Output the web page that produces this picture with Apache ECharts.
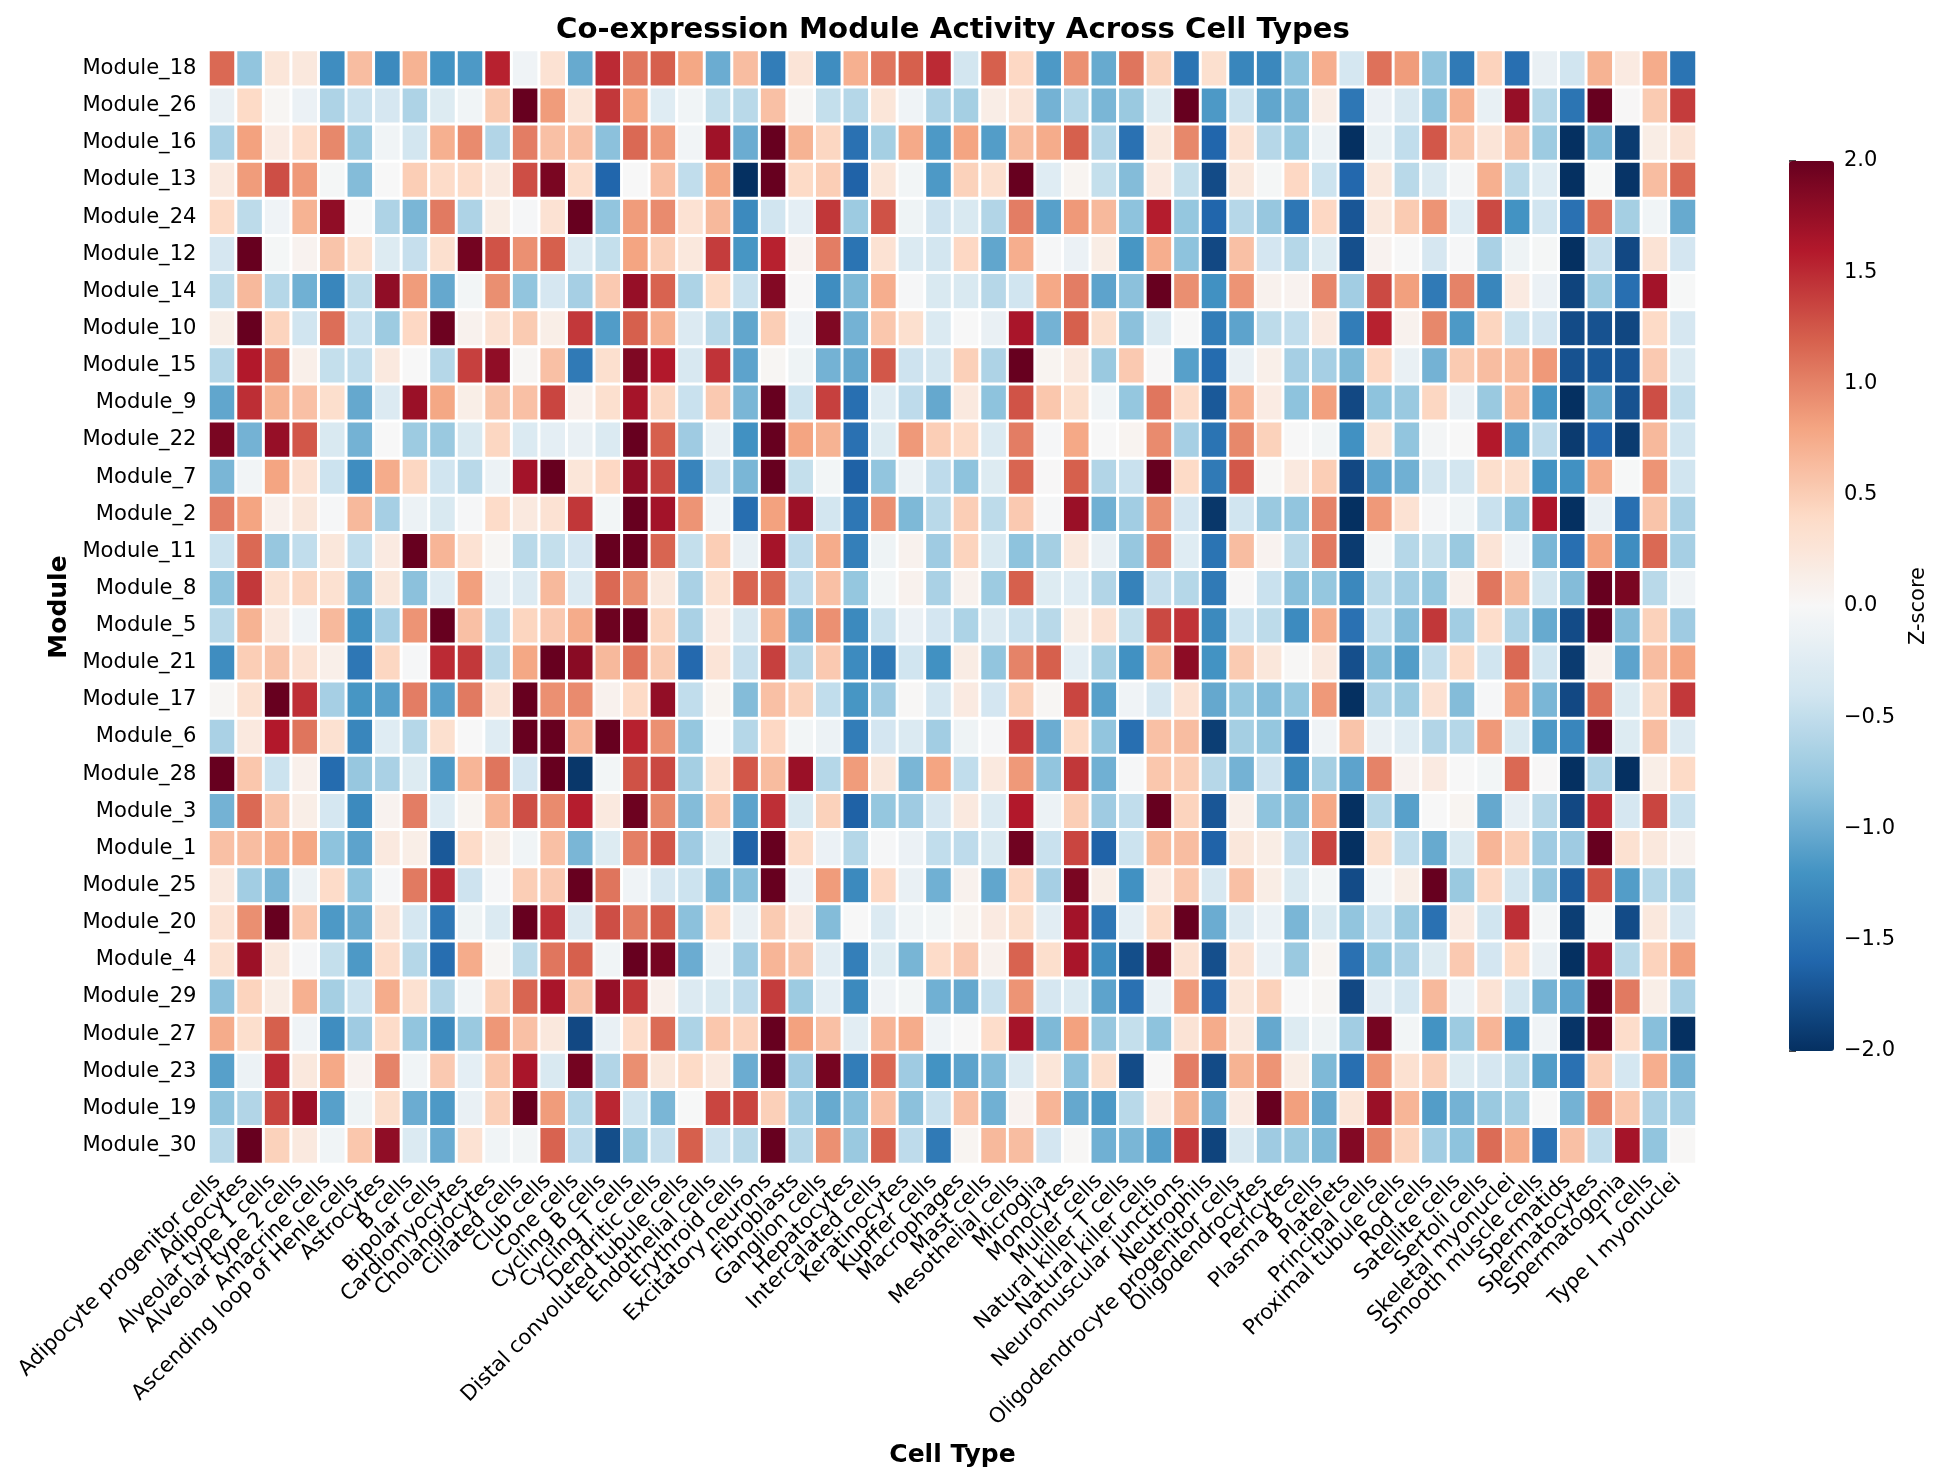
<!DOCTYPE html>
<html>
<head>
<meta charset="UTF-8">
<title>Co-expression Module Activity Across Cell Types</title>
<style>
	html,body{margin:0;padding:0;background:#fff;}
	#chart{width:1942px;height:1481px;}
</style>
</head>
<body>
<div id="chart"></div>
<script src="https://cdn.jsdelivr.net/npm/echarts@6/dist/echarts.min.js"></script>
<script type="text/javascript">
var cellTypes = ['Adipocyte progenitor cells','Adipocytes','Alveolar type 1 cells','Alveolar type 2 cells','Amacrine cells','Ascending loop of Henle cells','Astrocytes','B cells','Bipolar cells','Cardiomyocytes','Cholangiocytes','Ciliated cells','Club cells','Cone cells','Cycling B cells','Cycling T cells','Dendritic cells','Distal convoluted tubule cells','Endothelial cells','Erythroid cells','Excitatory neurons','Fibroblasts','Ganglion cells','Hepatocytes','Intercalated cells','Keratinocytes','Kupffer cells','Macrophages','Mast cells','Mesothelial cells','Microglia','Monocytes','Muller cells','Natural killer T cells','Natural killer cells','Neuromuscular junctions','Neutrophils','Oligodendrocyte progenitor cells','Oligodendrocytes','Pericytes','Plasma B cells','Platelets','Principal cells','Proximal tubule cells','Rod cells','Satellite cells','Sertoli cells','Skeletal myonuclei','Smooth muscle cells','Spermatids','Spermatocytes','Spermatogonia','T cells','Type I myonuclei'];

var modules = ['Module_18','Module_26','Module_16','Module_13','Module_24','Module_12','Module_14','Module_10','Module_15','Module_9','Module_22','Module_7','Module_2','Module_11','Module_8','Module_5','Module_21','Module_17','Module_6','Module_28','Module_3','Module_1','Module_25','Module_20','Module_4','Module_29','Module_27','Module_23','Module_19','Module_30'];

// z-scores, one array per module, same order as cellTypes
var module18 = [1.15,-0.8,0.25,0.22,-1.25,0.62,-1.28,0.7,-1.2,-1.15,1.55,-0.08,0.3,-1.02,1.5,1.07,1.2,0.78,-1.0,0.62,-1.4,0.27,-1.25,0.72,1.07,1.2,1.5,-0.38,1.2,0.42,-1.15,0.92,-1.02,1.08,0.47,-1.48,0.33,-1.32,-1.3,-0.82,0.73,-0.36,1.1,0.85,-0.8,-1.42,0.46,-1.52,-0.15,-0.4,0.7,0.18,0.75,-1.48];
var module26 = [-0.15,0.4,0.03,-0.13,-0.62,-0.45,-0.35,-0.62,-0.27,-0.07,0.52,2.0,0.85,0.25,1.42,0.8,-0.25,-0.07,-0.48,-0.55,0.6,0.03,-0.48,-0.58,0.25,-0.08,-0.62,-0.68,0.14,0.27,-0.95,-0.58,-0.92,-0.75,-0.27,2.0,-1.15,-0.44,-1.05,-0.92,0.14,-1.45,-0.13,-0.33,-0.82,0.72,-0.16,1.75,-0.58,-1.47,2.0,0.01,0.52,1.4];
var module16 = [-0.65,0.82,0.17,0.37,0.97,-0.75,-0.07,-0.38,0.72,0.95,-0.6,1.03,0.6,0.6,-0.83,1.15,0.87,-0.06,1.7,-1.0,2.0,0.7,0.43,-1.5,-0.68,0.76,-1.15,0.8,-1.12,0.63,0.75,1.2,-0.6,-1.5,0.22,0.97,-1.6,0.3,-0.57,-0.78,-0.12,-2.0,-0.16,-0.5,1.25,0.55,0.27,0.62,-0.73,-2.0,-0.9,-1.92,0.15,0.28];
var module13 = [0.2,0.85,1.3,0.87,-0.03,-0.87,0,0.5,0.38,0.38,0.2,1.3,1.9,0.37,-1.6,0,0.6,-0.5,0.78,-2.0,2.0,0.4,0.5,-1.62,0.25,-0.05,-1.15,0.47,0.33,2.0,-0.25,0.05,-0.48,-0.87,0.18,-0.48,-1.8,0.22,-0.03,0.42,-0.43,-1.58,0.22,-0.55,-0.3,-0.04,0.72,-0.55,-0.25,-2.0,-0.01,-1.97,0.62,1.15];
var module24 = [0.4,-0.53,-0.08,0.7,1.78,0,-0.62,-0.92,1.05,-0.62,0.15,-0.02,0.3,2.0,-0.8,0.85,0.95,0.3,0.65,-1.28,-0.4,-0.2,1.43,-0.73,1.28,-0.1,-0.42,-0.32,-0.6,1.03,-1.1,0.87,0.65,-0.82,1.58,-0.78,-1.6,-0.57,-0.77,-1.45,0.42,-1.72,0.22,0.52,0.9,-0.25,1.32,-1.2,-0.4,-1.5,1.1,-0.68,-0.07,-1.02];
var module12 = [-0.35,2.0,-0.03,0.07,0.57,0.32,-0.27,-0.47,0.33,1.93,1.27,0.92,1.2,-0.3,-0.48,0.8,0.48,0.22,1.4,-1.18,1.55,0.07,1.03,-1.48,0.3,-0.3,-0.38,0.42,-1.05,0.73,-0.02,-0.13,0.15,-1.18,0.73,-0.82,-1.82,0.6,-0.37,-0.58,-0.27,-1.77,0.07,0,-0.35,-0.02,-0.65,-0.09,-0.03,-2.0,-0.47,-1.82,0.28,-0.37];
var module14 = [-0.53,0.65,-0.58,-0.97,-1.32,-0.53,1.78,0.85,-1.03,-0.05,0.93,-0.8,-0.35,-0.67,0.53,1.75,1.18,-0.63,0.4,-0.45,1.85,0.01,-1.25,-0.9,0.73,-0.02,-0.32,-0.32,-0.57,-0.4,0.77,1.03,-1.07,-0.83,2.0,0.93,-1.22,0.9,0.08,0.07,0.98,-0.7,1.32,0.83,-1.42,1.0,-1.32,0.18,-0.13,-1.85,-0.73,-1.52,1.68,-0.01];
var module10 = [0.13,2.0,0.45,-0.4,1.12,-0.45,-0.73,0.42,1.97,0.08,0.3,0.52,0.13,1.42,-1.13,1.2,0.72,-0.28,-0.55,-1.05,0.5,-0.08,1.87,-0.95,0.55,0.33,-0.3,0,-0.15,1.65,-0.95,1.2,0.35,-0.83,-0.3,0,-1.4,-1.07,-0.53,-0.5,0.18,-1.4,1.55,0.08,0.97,-1.15,0.44,-0.44,-0.37,-1.8,-1.75,-1.83,0.4,-0.35];
var module15 = [-0.58,1.6,1.12,0.12,-0.48,-0.5,0.2,0,-0.58,1.38,1.78,0.03,0.6,-1.42,0.33,1.87,1.6,-0.33,1.45,-1.07,0.03,-0.1,-0.95,-1.03,1.25,-0.42,-0.38,0.48,-0.62,2.0,0.06,0.2,-0.75,0.53,0.01,-1.1,-1.55,-0.15,0.12,-0.67,-0.67,-0.9,0.42,-0.15,-0.95,0.52,0.62,0.63,0.87,-1.75,-1.7,-1.72,0.53,-0.3];
var module9 = [-1.05,1.48,0.7,0.6,0.35,-1.03,-0.28,1.73,0.78,0.13,0.57,0.6,1.35,0.1,0.33,1.67,0.43,-0.45,0.53,-0.92,2.0,-0.43,1.38,-1.52,-0.25,-0.52,-1.03,0.2,-0.82,1.27,0.55,0.35,-0.07,-0.78,1.07,0.38,-1.7,0.73,0.17,-0.82,0.83,-1.82,-0.82,-0.75,0.43,-0.15,-0.75,0.63,-1.2,-2.0,-1.03,-1.75,1.3,-0.5];
var module22 = [1.9,-0.95,1.75,1.25,-0.32,-0.95,0,-0.73,-0.75,-0.32,0.43,-0.3,-0.2,-0.15,-0.3,2.0,1.2,-0.72,-0.15,-1.22,2.0,0.8,0.7,-1.5,-0.27,0.87,0.5,0.4,-0.3,1.03,-0.02,0.77,0,0.06,0.95,-0.67,-1.48,0.97,0.47,0,-0.05,-1.22,0.25,-0.8,-0.04,0,1.6,-1.15,-0.52,-1.92,-1.58,-1.92,0.65,-0.4];
var module7 = [-0.92,-0.06,0.8,0.3,-0.43,-1.25,0.75,0.43,-0.4,-0.55,-0.12,1.68,2.0,0.25,0.42,1.78,1.33,-1.33,-0.47,-0.92,2.0,-0.48,-0.05,-1.63,-0.8,-0.12,-0.52,-0.82,-0.27,1.17,0.01,1.2,-0.6,-0.45,2.0,0.4,-1.42,1.25,0.02,0.2,0.5,-1.82,-1.07,-0.97,-0.38,-0.38,0.35,0.33,-1.2,-1.22,0.75,-0.01,0.9,-0.4];
var module2 = [1.03,0.8,0.1,0.23,-0.02,0.65,-0.67,-0.12,-0.32,-0.02,0.38,0.2,0.3,1.43,-0.05,2.0,1.68,0.9,-0.08,-1.53,0.82,1.72,-0.38,-1.45,0.93,-0.9,-0.55,0.5,-0.53,0.53,-0.02,1.73,-0.97,-0.7,0.93,-0.37,-1.95,-0.4,-0.75,-0.8,1.0,-2.0,0.87,0.3,-0.02,-0.07,-0.45,-0.8,1.63,-2.0,-0.15,-1.52,0.57,-0.65];
var module11 = [-0.43,1.15,-0.77,-0.5,0.23,-0.5,0.18,2.0,0.68,0.3,0.03,-0.55,-0.48,-0.37,2.0,2.0,1.17,-0.48,0.5,-0.15,1.67,-0.52,0.75,-1.38,-0.09,0.08,-0.72,0.45,-0.32,-0.82,-0.68,0.22,-0.15,-0.77,1.05,-0.25,-1.48,0.62,0.07,-0.55,1.05,-1.92,-0.04,-0.58,-0.48,-0.75,0.27,-0.08,-0.92,-1.52,0.82,-1.25,1.15,-0.67];
var module8 = [-0.82,1.42,0.32,0.43,0.32,-0.95,0.23,-0.83,-0.25,0.83,-0.15,-0.28,0.65,-0.28,1.15,0.93,0.22,-0.65,0.32,1.17,1.15,-0.52,0.6,-0.78,-0.05,0.08,-0.65,0.08,-0.73,1.2,-0.27,-0.25,-0.6,-1.35,-0.47,-0.58,-1.42,0.01,-0.45,-0.85,-0.78,-1.3,-0.55,-0.7,-0.78,0.1,1.07,0.65,-0.38,-0.87,2.0,1.9,-0.55,-0.08];
var module5 = [-0.55,0.7,0.2,-0.08,0.65,-1.23,-0.67,0.9,2.0,0.6,-0.5,0.44,0.53,0.75,1.97,2.0,0.44,-0.65,0.17,-0.33,0.78,-0.95,0.92,-1.28,-0.45,-0.13,-0.37,-0.63,-0.28,-0.45,-0.55,0.15,0.3,-0.48,1.33,1.45,-1.28,-0.43,-0.53,-1.27,0.75,-1.5,-0.5,-0.87,1.43,-0.7,0.37,-0.62,-1.02,-1.8,2.0,-0.87,0.47,-0.72];
var module21 = [-1.25,0.5,0.57,0.3,0.12,-1.45,0.43,-0.02,1.5,1.42,-0.55,0.78,2.0,1.82,0.65,1.1,0.52,-1.57,0.27,-0.47,1.38,-0.57,0.53,-1.27,-1.43,-0.4,-1.22,0.16,-0.8,1.0,1.2,-0.2,-0.68,-1.22,0.67,1.8,-1.2,0.52,0.23,0.02,0.2,-1.77,-0.9,-1.12,-0.5,0.4,-0.4,1.15,-0.4,-1.92,0.1,-1.07,0.62,0.8];
var module17 = [0.03,0.32,2.0,1.47,-0.67,-1.18,-1.1,1.03,-1.1,1.05,0.27,2.0,0.92,0.95,0.08,0.4,1.77,-0.5,0.05,-0.87,0.6,0.47,-0.5,-1.18,-0.72,0.02,-0.36,0.18,-0.37,0.5,0.03,1.35,-1.1,-0.08,-0.35,0.3,-1.03,-0.78,-0.88,-0.78,0.87,-2.0,-0.65,-0.73,0.3,-0.87,-0.02,0.85,-0.92,-1.82,1.1,-0.27,0.43,1.42];
var module6 = [-0.65,0.2,1.6,1.08,0.32,-1.32,-0.25,-0.58,0.33,0,-0.25,2.0,2.0,0.68,2.0,1.55,0.92,-0.78,0,-0.58,0.42,-0.05,-0.12,-1.4,-0.37,-0.3,-0.7,-0.1,-0.02,1.42,-1.0,0.4,-0.8,-1.52,0.6,0.62,-1.9,-0.68,-0.78,-1.63,-0.08,0.57,-0.15,-0.25,-0.6,-0.58,0.87,-0.32,-1.15,-1.32,2.0,-0.27,0.62,-0.28];
var module28 = [2.0,0.55,-0.43,0.1,-1.55,-0.77,-0.65,-0.27,-1.15,0.68,1.08,-0.37,2.0,-1.95,-0.05,1.28,1.33,-0.68,0.3,1.25,0.63,1.73,-0.58,0.85,0.23,-0.92,0.8,-0.5,0.2,0.87,-0.8,1.43,-0.97,-0.02,0.55,0.5,-0.57,-0.95,-0.42,-1.3,-0.68,-1.07,1.0,0.07,0.18,0,-0.05,1.15,0.01,-2.0,-0.62,-2.0,0.13,0.4];
var module3 = [-0.95,1.15,0.57,0.13,-0.36,-1.28,0.07,1.03,-0.25,0.05,0.68,1.3,0.95,1.57,0.2,1.97,0.97,-0.87,0.55,-1.07,1.47,-0.32,0.47,-1.63,-0.78,-0.72,-0.35,0.2,-0.3,1.6,-0.12,0.5,-0.72,-0.5,2.0,0.45,-1.72,0.12,-0.82,-0.87,0.77,-2.0,-0.58,-1.1,0,0.05,-1.03,-0.17,-0.57,-1.82,1.5,-0.35,1.35,-0.45];
var module1 = [0.6,0.62,0.72,0.78,-0.82,-1.07,0.2,0.13,-1.7,0.38,0.13,-0.07,0.6,-0.92,-0.27,1.02,1.25,-0.72,-0.27,-1.62,2.0,0.38,-0.13,-0.58,-0.02,-0.13,-0.5,-0.52,-0.32,1.95,-0.45,1.35,-1.62,-0.43,0.63,0.62,-1.62,0.23,0.15,-0.52,1.35,-2.0,0.35,-0.5,-1.02,-0.32,0.68,0.5,-0.72,-0.72,2.0,0.32,0.22,0.08];
var module25 = [0.2,-0.7,-0.92,-0.12,0.38,-0.82,-0.02,1.05,1.52,-0.42,-0.02,0.5,0.53,2.0,1.08,-0.08,-0.35,-0.43,-0.9,-0.85,2.0,-0.13,0.85,-1.28,0.42,-0.15,-0.97,0.08,-1.05,0.42,-0.67,1.9,0.13,-1.22,0.17,0.55,-0.33,0.6,0.15,-0.32,-0.05,-1.8,-0.06,0.13,2.0,-0.75,0.42,-0.38,-0.77,-1.7,1.28,-1.12,-0.58,-0.62];
var module20 = [0.3,0.93,2.0,0.55,-1.15,-1.02,0.27,-0.36,-1.45,-0.1,-0.3,2.0,1.47,-0.28,1.3,1.05,1.23,-0.83,0.4,-0.15,0.52,0.18,-0.87,0,-0.28,-0.07,-0.05,0.05,0.18,0.35,-0.22,1.68,-1.45,-0.2,0.4,2.0,-1.0,-0.28,-0.14,-0.92,-0.32,-0.8,-0.45,-0.75,-1.5,0.18,-0.4,1.47,-0.04,-1.9,-0.01,-1.8,0.22,-0.35];
var module4 = [0.32,1.72,0.22,-0.02,-0.48,-1.15,0.37,-0.58,-1.53,0.75,0.03,-0.53,1.07,1.2,-0.07,2.0,1.92,-1.0,-0.12,-0.72,0.68,0.57,-0.22,-1.38,-0.27,-0.93,0.38,0.53,0.08,1.18,0.35,1.65,-1.25,-1.78,1.97,0.3,-1.77,0.3,-0.14,-0.75,0.05,-1.5,-0.82,-0.65,-0.27,0.53,-0.37,0.4,-0.15,-2.0,1.68,-0.55,0.46,0.83];
var module29 = [-0.83,0.45,0.15,0.72,-0.68,-0.43,0.75,0.32,-0.6,-0.06,0.47,1.17,1.65,0.57,1.75,1.43,0.1,-0.28,-0.32,-0.52,1.4,-0.73,-0.2,-1.28,-0.08,-0.05,-0.97,-1.03,-0.45,0.9,-0.35,-0.3,-1.07,-1.5,-0.14,0.87,-1.63,0.25,0.47,0,0.03,-1.82,-0.22,-0.36,0.65,-0.12,0.28,-0.38,-0.95,-1.07,2.0,1.05,0.13,-0.65];
var module27 = [0.75,0.35,1.2,-0.08,-1.25,-0.72,0.38,-0.8,-1.28,-0.75,0.88,0.6,0.22,-1.82,-0.15,0.37,1.13,-0.63,0.55,0.46,2.0,0.82,0.6,-0.22,0.68,0.75,-0.08,0,0.37,1.67,-0.9,0.82,-0.77,-0.48,-0.82,0.28,0.75,0.22,-1.03,-0.27,-0.09,-0.7,1.92,-0.05,-1.2,-0.73,0.68,-1.27,-0.08,-1.97,2.0,0.37,-0.85,-2.0];
var module23 = [-1.1,-0.12,1.5,0.22,0.77,0.07,1.0,-0.07,0.53,-0.2,0.55,1.65,-0.32,1.93,-0.6,0.93,0.23,0.4,0.2,-1.0,2.0,-0.72,1.92,-1.4,1.15,-0.72,-1.2,-1.07,-0.88,-0.3,0.25,-0.83,0.35,-1.8,0,1.03,-1.8,0.7,0.9,0.15,-0.9,-1.52,0.9,0.32,0.48,-0.27,-0.35,-0.53,-1.12,-1.5,0.5,-0.36,0.73,-0.95];
var module19 = [-0.8,-0.6,1.35,1.72,-1.1,-0.1,0.35,-1.0,-1.15,-0.15,0.48,2.0,0.85,-0.58,1.52,-0.4,-0.92,-0.01,1.35,1.35,0.48,-0.7,-1.02,-0.85,0.6,-0.83,-0.45,0.6,-0.97,0.07,0.68,-1.03,-1.15,-0.55,0.18,0.7,-1.0,0.17,2.0,0.83,-1.03,0.25,1.73,0.68,-1.12,-0.95,-0.75,-0.68,0,-0.95,0.95,0.55,-0.65,-0.67];
var module30 = [-0.55,2.0,0.47,0.2,-0.07,0.55,1.78,-0.3,-1.0,0.3,-0.07,-0.05,1.18,-0.52,-1.78,-0.75,-0.47,1.2,-0.42,-0.55,2.0,-0.57,0.92,-0.75,1.2,-0.52,-1.42,0.05,0.65,0.62,-0.37,0.02,-0.97,-0.92,-1.1,1.42,-1.85,-0.33,-0.72,-0.75,-0.9,1.85,1.0,0.45,-0.7,-0.82,1.13,0.75,-1.5,0.6,-0.5,1.67,-0.8,0.02];

var moduleRows = [module18,module26,module16,module13,module24,module12,module14,module10,module15,module9,module22,module7,module2,module11,module8,module5,module21,module17,module6,module28,module3,module1,module25,module20,module4,module29,module27,module23,module19,module30];

var colorbarTicks = [-2,-1.5,-1,-0.5,0,0.5,1,1.5,2];
// RdBu_r
var rdbu = ['#053061','#2166ac','#4393c3','#92c5de','#d1e5f0','#f7f7f7','#fddbc7','#f4a582','#d6604d','#b2182b','#67001f'];

var cells = [];
moduleRows.forEach(function (row, y) {
	row.forEach(function (v, x) {
		cells.push([x, y, v]);
	});
});

var font = 'DejaVu Sans';
var chart = echarts.init(document.getElementById('chart'));
chart.setOption({
	animation: false,
	backgroundColor: '#fff',
	textStyle: {fontFamily: font},
	title: {
		text: 'Co-expression Module Activity Across Cell Types',
		left: 948,
		top: 11,
		textAlign: 'center',
		textStyle: {fontFamily: font, fontSize: 29.2, fontWeight: 'bold', color: '#000'}
	},
	grid: [
		{left: 208.5, top: 50, width: 1488, height: 1114},
		{left: 1789, top: 161, width: 45, height: 890}
	],
	xAxis: [
		{
			type: 'category', gridIndex: 0, data: cellTypes,
			name: 'Cell Type', nameLocation: 'middle', nameGap: 279,
			nameTextStyle: {fontFamily: font, fontSize: 25, fontWeight: 'bold', color: '#000'},
			axisLine: {show: false},
			axisTick: {alignWithLabel: true, length: 7, lineStyle: {color: '#262626', width: 1.7}},
			axisLabel: {interval: 0, rotate: 45, margin: 9, padding: [0, 7, 0, 0], fontFamily: font, fontSize: 21.1, color: '#000'},
			splitLine: {show: false}
		},
		{type: 'value', gridIndex: 1, show: false}
	],
	yAxis: [
		{
			type: 'category', gridIndex: 0, data: modules, inverse: true,
			name: 'Module', nameLocation: 'middle', nameGap: 136, nameRotate: 90,
			nameTextStyle: {fontFamily: font, fontSize: 25, fontWeight: 'bold', color: '#000'},
			axisLine: {show: false},
			axisTick: {alignWithLabel: true, length: 7, lineStyle: {color: '#262626', width: 1.7}},
			axisLabel: {interval: 0, margin: 12, fontFamily: font, fontSize: 21.1, color: '#000'},
			splitLine: {show: false}
		},
		{
			type: 'value', gridIndex: 1, position: 'right', min: -2, max: 2, interval: 0.5,
			name: 'Z-score', nameLocation: 'middle', nameGap: 74, nameRotate: 90,
			nameTextStyle: {fontFamily: font, fontSize: 21, color: '#000'},
			axisLine: {show: false},
			axisTick: {show: true, length: 7, lineStyle: {color: '#262626', width: 1.7}},
			axisLabel: {
				margin: 10, fontFamily: font, fontSize: 21, color: '#000',
				formatter: function (v) {
					var i = colorbarTicks.indexOf(v);
					return i < 0 ? '' : v.toFixed(1).replace('-', '\u2212');
				}
			},
			splitLine: {show: false}
		}
	],
	visualMap: {
		type: 'continuous', seriesIndex: 0, min: -2, max: 2,
		left: 1789, top: 161, padding: 0,
		itemWidth: 45, itemHeight: 890,
		calculable: false, hoverLink: false, showLabel: false, text: null,
		inRange: {color: rdbu}
	},
	series: [{
		type: 'heatmap',
		xAxisIndex: 0,
		yAxisIndex: 0,
		data: cells,
		progressive: 0,
		itemStyle: {borderColor: '#fff', borderWidth: 3}
	}]
});
</script>
</body>
</html>
